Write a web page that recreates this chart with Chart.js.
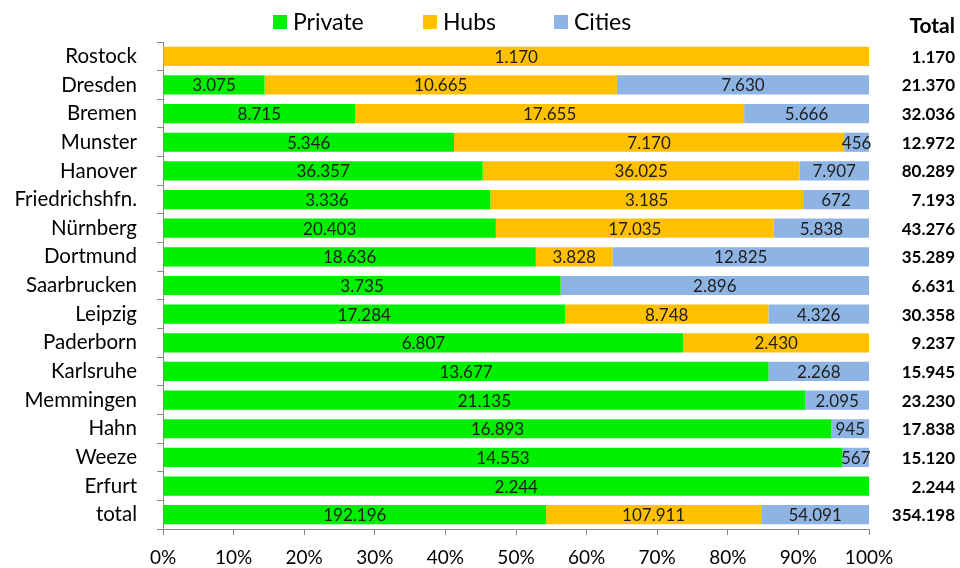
<!DOCTYPE html>
<html>
<head>
<meta charset="utf-8">
<script src="https://cdn.jsdelivr.net/npm/chart.js@4.4.1/dist/chart.umd.min.js"></script>
<style>
html,body{margin:0;padding:0;background:#fff;}
#wrap{width:960px;height:568px;position:relative;}
</style>
</head>
<body>
<div id="wrap"><canvas id="c" width="960" height="568"></canvas></div>
<script>
const categories = ['Rostock','Dresden','Bremen','Munster','Hanover','Friedrichshfn.','Nürnberg','Dortmund','Saarbrucken','Leipzig','Paderborn','Karlsruhe','Memmingen','Hahn','Weeze','Erfurt','total'];
const privateVals = [0,3075,8715,5346,36357,3336,20403,18636,3735,17284,6807,13677,21135,16893,14553,2244,192196];
const hubsVals    = [1170,10665,17655,7170,36025,3185,17035,3828,0,8748,2430,0,0,0,0,0,107911];
const citiesVals  = [0,7630,5666,456,7907,672,5838,12825,2896,4326,0,2268,2095,945,567,0,54091];
const totalVals   = [1170,21370,32036,12972,80289,7193,43276,35289,6631,30358,9237,15945,23230,17838,15120,2244,354198];
const xTicks = [0,10,20,30,40,50,60,70,80,90,100];

const seriesNames = ['Private','Hubs','Cities'];
const seriesColors = ['#00EE00','#FFC000','#8EB4E3'];
const raw = [privateVals, hubsVals, citiesVals];

function fmt(n){
  const s = String(Math.round(n));
  return s.replace(/\B(?=(\d{3})+(?!\d))/g, '.');
}
const pct = (arr) => arr.map((v,i)=> v/totalVals[i]*100);

const FONT = "Lato, 'Open Sans', sans-serif";

const labelPlugin = {
  id:'labels',
  afterDatasetsDraw(chart){
    const ctx = chart.ctx;
    ctx.save();
    ctx.font = "17px " + FONT;
    ctx.fillStyle = '#1e1e1e';
    ctx.textAlign = 'center';
    ctx.textBaseline = 'middle';
    chart.data.datasets.forEach((ds, di)=>{
      const meta = chart.getDatasetMeta(di);
      meta.data.forEach((el, i)=>{
        const v = raw[di][i];
        if(!v) return;
        const p = el.getProps(['x','base','y'], true);
        ctx.fillText(fmt(v), (p.x + p.base)/2, p.y + 1);
      });
    });
    // totals column
    ctx.font = "bold 17px " + FONT;
    ctx.fillStyle = '#000';
    ctx.textAlign = 'right';
    const ys = chart.scales.y;
    totalVals.forEach((t,i)=>{
      ctx.fillText(fmt(t), 955, ys.getPixelForValue(i) + 1);
    });
    ctx.font = "bold 21px " + FONT;
    ctx.fillText('Total', 955, 26);
    // legend
    const legX = [273, 423, 554];
    ctx.textAlign = 'left';
    ctx.font = "23px " + FONT;
    seriesNames.forEach((n,k)=>{
      ctx.fillStyle = seriesColors[k];
      ctx.fillRect(legX[k], 15, 14, 14);
      ctx.fillStyle = '#000';
      ctx.fillText(n, legX[k] + 20, 23);
    });
    ctx.restore();
  }
};

new Chart(document.getElementById('c'), {
  type:'bar',
  data:{
    labels: categories,
    datasets: seriesNames.map((n,k)=>({
      label:n,
      data:pct(raw[k]),
      backgroundColor:seriesColors[k],
      borderWidth:0,
      barPercentage:0.67,
      categoryPercentage:1.0
    }))
  },
  options:{
    indexAxis:'y',
    responsive:false,
    animation:false,
    layout:{padding:{top:42,right:91,left:0,bottom:0}},
    plugins:{legend:{display:false},tooltip:{enabled:false}},
    scales:{
      x:{
        stacked:true,
        min:0,max:100,
        afterBuildTicks(s){ s.ticks = xTicks.map(v=>({value:v})); },
        afterFit(s){ s.height = 39; },
        border:{color:'#888',width:1},
        grid:{drawOnChartArea:false,drawTicks:true,tickLength:6,color:'#888'},
        ticks:{color:'#000',font:{family:FONT,size:19},padding:11,callback:(v)=>v+'%',maxRotation:0}
      },
      y:{
        stacked:true,
        offset:true,
        afterFit(s){ s.width = 163; },
        border:{color:'#888',width:1},
        grid:{offset:true,drawOnChartArea:false,drawTicks:true,tickLength:6,color:'#888'},
        ticks:{color:'#000',font:{family:FONT,size:20.5},padding:20,autoSkip:false}
      }
    }
  },
  plugins:[labelPlugin]
});
</script>
</body>
</html>
